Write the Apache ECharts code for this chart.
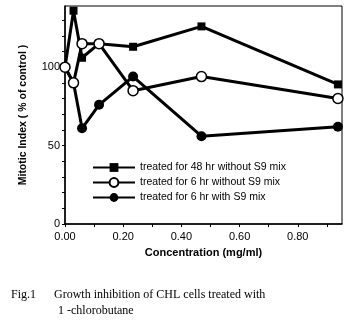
<!DOCTYPE html>
<html>
<head>
<meta charset="utf-8">
<script src="https://cdn.jsdelivr.net/npm/echarts@6/dist/echarts.min.js"></script>
<style>
html,body{margin:0;padding:0;background:#fff;}
#chart{width:351px;height:324px;}
</style>
</head>
<body>
<div id="chart"></div>
<script>
var concentrations = [0, 0.0293, 0.0586, 0.117, 0.234, 0.469, 0.938];
var seriesNames = [
  'treated for 48 hr without S9 mix',
  'treated for 6 hr without S9 mix',
  'treated for 6 hr with S9 mix'
];
var hr48NoS9 = [100, 136, 106, 115, 113, 126, 89];
var hr6NoS9 = [100, 90, 115, 115, 85, 94, 80];
var hr6WithS9 = [100, 90, 61, 76, 94, 56, 62];
var xTickValues = [0, 0.1, 0.2, 0.3, 0.4, 0.5, 0.6, 0.7, 0.8, 0.9];
var xLabelValues = [0, 0.2, 0.4, 0.6, 0.8];
var yTickValues = [0, 10, 20, 30, 40, 50, 60, 70, 80, 90, 100, 110, 120, 130];
var yLabelValues = [0, 50, 100];

function pairs(ys) {
  return concentrations.map(function (x, i) { return [x, ys[i]]; });
}

var chart = echarts.init(document.getElementById('chart'), null, {renderer: 'canvas'});
var sans = 'Liberation Sans, Arial, sans-serif';
var serif = 'Liberation Serif, Times New Roman, serif';

chart.setOption({
  backgroundColor: '#fff',
  animation: false,
  title: [
    {text: 'Fig.1', left: 6, top: 284, textStyle: {fontFamily: serif, fontSize: 12, fontWeight: 'normal', color: '#000'}},
    {text: 'Growth inhibition of CHL cells treated with', left: 49, top: 284, textStyle: {fontFamily: serif, fontSize: 12, fontWeight: 'normal', color: '#000'}},
    {text: '1 -chlorobutane', left: 53, top: 300, textStyle: {fontFamily: serif, fontSize: 12, fontWeight: 'normal', color: '#000'}}
  ],
  grid: {left: 65, right: 9, top: 6, bottom: 100, show: true, borderColor: '#000', borderWidth: 1},
  legend: {
    orient: 'vertical', left: 87, top: 157, itemWidth: 42, itemHeight: 11, itemGap: 4,
    data: seriesNames,
    textStyle: {fontFamily: sans, fontSize: 10.5, color: '#000'}
  },
  xAxis: {
    type: 'value', min: 0, max: 0.952,
    name: 'Concentration (mg/ml)', nameLocation: 'middle', nameGap: 23,
    nameTextStyle: {fontFamily: sans, fontSize: 11, fontWeight: 'bold', color: '#000'},
    axisLine: {lineStyle: {color: '#000', width: 1.5}},
    axisTick: {show: true, length: 3, customValues: xTickValues, lineStyle: {color: '#000', width: 1}},
    axisLabel: {customValues: xLabelValues, formatter: function (v) { return v.toFixed(2); },
      fontFamily: sans, fontSize: 11, color: '#000', margin: 7},
    splitLine: {show: false}
  },
  yAxis: {
    type: 'value', min: 0, max: 139,
    name: 'Mitotic Index ( % of control )', nameLocation: 'middle', nameGap: 36,
    nameTextStyle: {fontFamily: sans, fontSize: 10.5, fontWeight: 'bold', color: '#000'},
    axisLine: {show: true, lineStyle: {color: '#000', width: 1.5}},
    axisTick: {show: true, length: 3, customValues: yTickValues, lineStyle: {color: '#000', width: 1}},
    axisLabel: {customValues: yLabelValues, fontFamily: sans, fontSize: 11, color: '#000', margin: 5},
    splitLine: {show: false}
  },
  series: [
    {
      name: seriesNames[0], type: 'line', data: pairs(hr48NoS9),
      symbol: 'rect', symbolSize: 8, z: 3,
      lineStyle: {color: '#000', width: 3},
      itemStyle: {color: '#000', borderColor: '#000', borderWidth: 0}
    },
    {
      name: seriesNames[2], type: 'line', data: pairs(hr6WithS9),
      symbol: 'circle', symbolSize: 10, z: 4,
      lineStyle: {color: '#000', width: 3},
      itemStyle: {color: '#000', borderColor: '#000', borderWidth: 0}
    },
    {
      name: seriesNames[1], type: 'line', data: pairs(hr6NoS9),
      symbol: 'circle', symbolSize: 10, z: 5, showAllSymbol: true,
      lineStyle: {color: '#000', width: 3},
      itemStyle: {color: '#fff', borderColor: '#000', borderWidth: 1.5}
    }
  ]
});
</script>
</body>
</html>
